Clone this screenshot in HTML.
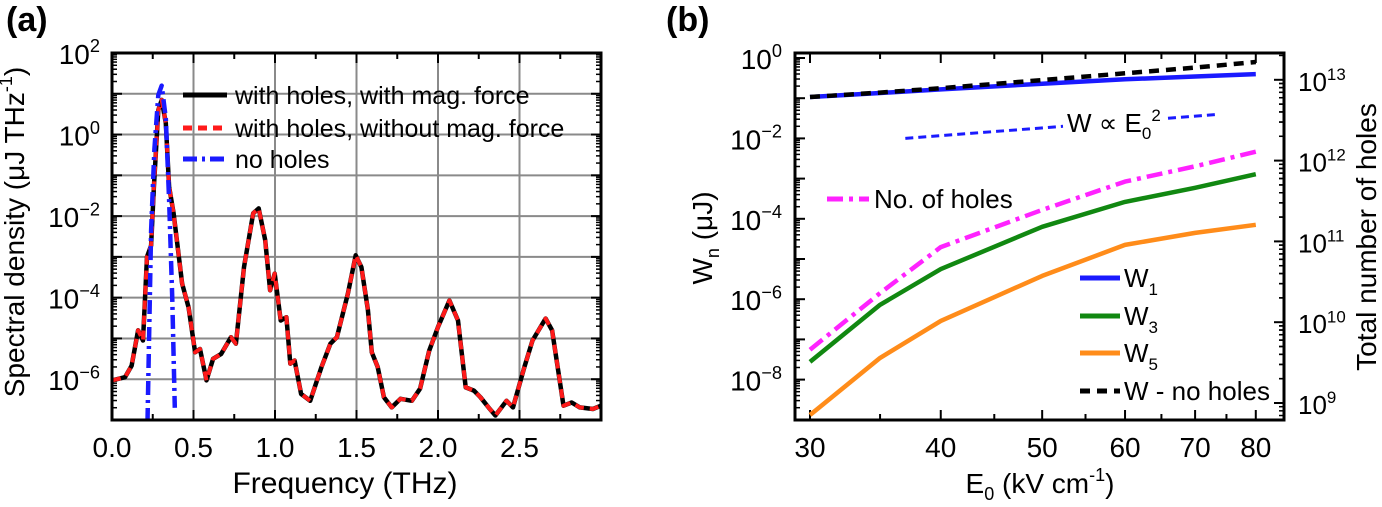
<!DOCTYPE html>
<html><head><meta charset="utf-8"><style>
body{margin:0;background:#fff}
svg{display:block;font-family:"Liberation Sans",sans-serif}
</style></head><body>
<svg id="fig" width="1382" height="507" viewBox="0 0 1382 507" xmlns="http://www.w3.org/2000/svg">
<g id="pa"></g>
<g id="pb"></g>
<text x="6" y="31" font-size="34" font-weight="bold">(a)</text>
<text x="666" y="31" font-size="34" font-weight="bold">(b)</text>
</svg>
<script>
// ---------- Panel (a) data ----------
const freqHoles=[0,0.08,0.12,0.16,0.19,0.215,0.24,0.257,0.284,0.305,0.33,0.35,0.378,0.43,0.47,0.51,0.54,0.58,0.62,0.67,0.73,0.76,0.81,0.866,0.9,0.94,0.97,0.998,1.035,1.07,1.094,1.12,1.16,1.216,1.285,1.34,1.38,1.447,1.495,1.53,1.57,1.594,1.63,1.668,1.716,1.77,1.84,1.89,1.946,2.0,2.07,2.123,2.17,2.22,2.26,2.31,2.352,2.42,2.46,2.53,2.58,2.66,2.7,2.77,2.82,2.87,2.95,3.0];
const logSHoles=[-6.03,-5.95,-5.67,-4.8,-5.05,-3.0,-2.72,-1.28,0.6,0.85,0.28,-1.28,-1.93,-3.65,-4.24,-5.34,-5.26,-6.03,-5.5,-5.38,-4.97,-5.13,-3.25,-1.93,-1.81,-2.59,-3.82,-3.41,-4.56,-4.48,-5.62,-5.54,-6.36,-6.53,-5.7,-5.13,-4.97,-3.9,-2.96,-3.25,-4.3,-5.34,-5.7,-6.44,-6.69,-6.48,-6.53,-6.23,-5.3,-4.72,-4.07,-4.56,-6.2,-6.28,-6.44,-6.69,-6.89,-6.53,-6.69,-5.7,-5.05,-4.51,-4.8,-6.65,-6.57,-6.69,-6.73,-6.65];
const freqNoHoles=[0.218,0.24,0.26,0.284,0.305,0.33,0.35,0.37,0.385];
const logSNoHoles=[-7.05,-2.36,-0.36,0.97,1.2,0.4,-1.6,-4.05,-6.7];
const aXTicks=[0,0.5,1.0,1.5,2.0,2.5];
const aXTickLabels=["0.0","0.5","1.0","1.5","2.0","2.5"];
const aYTicks=[2,0,-2,-4,-6];
const aLegend=["with holes, with mag. force","with holes, without mag. force","no holes"];
// ---------- Panel (b) data ----------
const fieldE=[30,35,40,50,60,70,80];
const logW1=[-0.97,-0.87,-0.78,-0.64,-0.53,-0.46,-0.4];
const logWNoHoles=[-0.97,-0.86,-0.75,-0.55,-0.38,-0.24,-0.1];
const logW3=[-7.56,-6.14,-5.25,-4.2,-3.58,-3.23,-2.89];
const logW5=[-8.88,-7.46,-6.54,-5.42,-4.65,-4.35,-4.15];
const logHoles=[9.66,10.36,10.93,11.39,11.74,11.93,12.11];
const bXTicks=[30,40,50,60,70,80];
const bXMinor=[35,45,55,65,75];
const bYTicks=[0,-2,-4,-6,-8];
const bY2Ticks=[13,12,11,10,9];
const scalingE=[37,73.9];
const scalingLogW0=-2;

const NS="http://www.w3.org/2000/svg";
function mk(parent,tag,attrs,name){const e=document.createElementNS(NS,tag);for(const k in attrs)e.setAttribute(k,attrs[k]);


parent.appendChild(e);return e;}
function supText(parent,x,y,base,sup,size,anchor,name){
  const t=mk(parent,'text',{x:x,y:y,'font-size':size,'text-anchor':anchor||'start'},name);
  const s1=document.createElementNS(NS,'tspan');s1.textContent=base;t.appendChild(s1);
  const s2=document.createElementNS(NS,'tspan');s2.setAttribute('font-size',size*0.65);s2.setAttribute('dy',-size*0.42);s2.textContent=sup;t.appendChild(s2);
  return t;}

// ---------- Panel A ----------
const pa=document.getElementById('pa');
const aL=112,aR=601,aT=53,aB=420;
const ax=f=>aL+(f/3)*(aR-aL);
const ay=l=>aT+(2-l)*(aB-aT)/9;
for(let f=0.5;f<2.9;f+=0.5){mk(pa,'line',{x1:ax(f),x2:ax(f),y1:aT,y2:aB,stroke:'#8a8a8a','stroke-width':2},'grid-x');}
for(let l=1;l>=-6;l--){mk(pa,'line',{x1:aL,x2:aR,y1:ay(l),y2:ay(l),stroke:'#8a8a8a','stroke-width':2},'grid-y');}
for(let d=2;d>-7;d--){for(let m=2;m<10;m++){const l=d-1+Math.log10(m);const y=ay(l);
 mk(pa,'line',{x1:aL,x2:aL+5,y1:y,y2:y,stroke:'#000','stroke-width':1.5},'y-minor-tick');
 mk(pa,'line',{x1:aR-5,x2:aR,y1:y,y2:y,stroke:'#000','stroke-width':1.5},'y-minor-tick');}}
for(let l=2;l>=-7;l--){const y=ay(l);
 mk(pa,'line',{x1:aL,x2:aL+10,y1:y,y2:y,stroke:'#000','stroke-width':2},'y-major-tick');
 mk(pa,'line',{x1:aR-10,x2:aR,y1:y,y2:y,stroke:'#000','stroke-width':2},'y-major-tick');}
for(let f=0.25;f<3;f+=0.25){const x=ax(f);const len=(Math.abs(f*2-Math.round(f*2))<1e-6)?10:6;
 mk(pa,'line',{x1:x,x2:x,y1:aB-len,y2:aB,stroke:'#000','stroke-width':2},'x-tick');
 mk(pa,'line',{x1:x,x2:x,y1:aT,y2:aT+len,stroke:'#000','stroke-width':2},'x-tick');}
const clipA=mk(pa,'clipPath',{id:'clipA'},'clip-a');mk(clipA,'rect',{x:aL,y:aT,width:aR-aL,height:aB-aT},'clip-rect');
const ptsH=freqHoles.map((f,i)=>ax(f).toFixed(1)+','+ay(logSHoles[i]).toFixed(1)).join(' ');
mk(pa,'polyline',{points:ptsH,fill:'none',stroke:'#000','stroke-width':4.5,'stroke-linejoin':'round','clip-path':'url(#clipA)'},'series-with-mag-force');
mk(pa,'polyline',{points:ptsH,fill:'none',stroke:'#ff1a1a','stroke-width':4,'stroke-dasharray':'9 6','stroke-linejoin':'round','clip-path':'url(#clipA)'},'series-without-mag-force');
const ptsN=freqNoHoles.map((f,i)=>ax(f).toFixed(1)+','+ay(logSNoHoles[i]).toFixed(1)).join(' ');
mk(pa,'polyline',{points:ptsN,fill:'none',stroke:'#1a1aff','stroke-width':4.5,'stroke-dasharray':'14 5 3 5','stroke-linejoin':'round','clip-path':'url(#clipA)'},'series-no-holes');
mk(pa,'rect',{x:aL,y:aT,width:aR-aL,height:aB-aT,fill:'none',stroke:'#000','stroke-width':3},'plot-frame-a');
aXTicks.forEach((f,i)=>{const t=mk(pa,'text',{x:ax(f),y:457,'font-size':28,'text-anchor':'middle'},'x-tick-label');t.textContent=aXTickLabels[i];});
aYTicks.forEach(l=>{supText(pa,100,ay(l)+11,'10',(l<0?'\u2212'+(-l):''+l),28,'end','y-tick-label');});
const xl=mk(pa,'text',{x:345,y:493,'font-size':30,'text-anchor':'middle'},'x-axis-title');xl.textContent='Frequency (THz)';
const yl=mk(pa,'text',{x:0,y:0,'font-size':28,'text-anchor':'middle',transform:'translate(24,232) rotate(-90)'},'y-axis-title');
yl.innerHTML='Spectral density (\u03bcJ THz<tspan font-size="18" dy="-12">-1</tspan><tspan dy="12">)</tspan>';
const legY=[95,128,159];
const legStyles=[{stroke:'#000','stroke-width':5},{stroke:'#ff1a1a','stroke-width':5,'stroke-dasharray':'9 6'},{stroke:'#1a1aff','stroke-width':5,'stroke-dasharray':'14 5 3 5'}];
aLegend.forEach((lab,i)=>{const g=mk(pa,'g',{},'legend-entry');
 mk(g,'line',Object.assign({x1:183,x2:227,y1:legY[i],y2:legY[i]},legStyles[i]),'legend-swatch');
 const t=mk(g,'text',{x:235,y:legY[i]+9,'font-size':25},'legend-label');t.textContent=lab;});

// ---------- Panel B ----------
const pb=document.getElementById('pb');
const bL=795,bR=1284,bT=53,bB=420;
const bx=E=>810+454.5*Math.log(E/30);
const by=l=>58-l*40.2;
const by2=n=>403-(n-9)*80.8;
for(let d=0;d>-9;d--){for(let m=2;m<10;m++){const y=by(d-1+Math.log10(m));if(y<bT)continue;
 mk(pb,'line',{x1:bL,x2:bL+5,y1:y,y2:y,stroke:'#000','stroke-width':1.5},'y-minor-tick');}}
for(let l=0;l>=-9;l--){const y=by(l);mk(pb,'line',{x1:bL,x2:bL+10,y1:y,y2:y,stroke:'#000','stroke-width':2},'y-major-tick');}
for(let d=13;d>8;d--){for(let m=2;m<10;m++){const y=by2(d-1+Math.log10(m));if(y>bB||y<bT)continue;
 mk(pb,'line',{x1:bR-5,x2:bR,y1:y,y2:y,stroke:'#000','stroke-width':1.5},'y2-minor-tick');}
 for(let m=2;m<10;m++){const y=by2(d+Math.log10(m));if(y>bT&&y<bB)mk(pb,'line',{x1:bR-5,x2:bR,y1:y,y2:y,stroke:'#000','stroke-width':1.5},'y2-minor-tick');}}
bY2Ticks.forEach(n=>{const y=by2(n);mk(pb,'line',{x1:bR-10,x2:bR,y1:y,y2:y,stroke:'#000','stroke-width':2},'y2-major-tick');});
bXTicks.forEach(E=>{const x=bx(E);mk(pb,'line',{x1:x,x2:x,y1:bB-10,y2:bB,stroke:'#000','stroke-width':2},'x-tick');mk(pb,'line',{x1:x,x2:x,y1:bT,y2:bT+10,stroke:'#000','stroke-width':2},'x-tick');});
bXMinor.forEach(E=>{const x=bx(E);mk(pb,'line',{x1:x,x2:x,y1:bB-6,y2:bB,stroke:'#000','stroke-width':2},'x-minor-tick');mk(pb,'line',{x1:x,x2:x,y1:bT,y2:bT+6,stroke:'#000','stroke-width':2},'x-minor-tick');});
function line(vals,mapY,style,name){const pts=fieldE.map((E,i)=>bx(E).toFixed(1)+','+mapY(vals[i]).toFixed(1)).join(' ');
 return mk(pb,'polyline',Object.assign({points:pts,fill:'none','stroke-linejoin':'round'},style),name);}
line(logW1,by,{stroke:'#1a1aff','stroke-width':4.5},'series-w1');
line(logWNoHoles,by,{stroke:'#000','stroke-width':4.5,'stroke-dasharray':'10 7'},'series-w-no-holes');
line(logW3,by,{stroke:'#118811','stroke-width':4.5},'series-w3');
line(logW5,by,{stroke:'#ff8c1a','stroke-width':4.5},'series-w5');
line(logHoles,by2,{stroke:'#ff22ff','stroke-width':4.5,'stroke-dasharray':'16 6 4 6'},'series-no-of-holes');
const sl=E=>scalingLogW0+2*Math.log10(E/scalingE[0]);
mk(pb,'line',{x1:bx(scalingE[0]),y1:by(sl(scalingE[0])),x2:1063,y2:by(sl(30*Math.exp((1063-810)/454.5))),stroke:'#1a1aff','stroke-width':3,'stroke-dasharray':'8 5'},'scaling-line-left');
mk(pb,'line',{x1:1168,y1:by(sl(30*Math.exp((1168-810)/454.5))),x2:bx(scalingE[1]),y2:by(sl(scalingE[1])),stroke:'#1a1aff','stroke-width':3,'stroke-dasharray':'8 5'},'scaling-line-right');
const st=mk(pb,'text',{x:1067,y:132,'font-size':26},'scaling-label');
st.innerHTML='W \u221d E<tspan font-size="17" dy="7">0</tspan><tspan font-size="17" dy="-18">2</tspan>';
mk(pb,'rect',{x:bL,y:bT,width:bR-bL,height:bB-bT,fill:'none',stroke:'#000','stroke-width':3},'plot-frame-b');
bXTicks.forEach(E=>{const t=mk(pb,'text',{x:bx(E),y:457,'font-size':28,'text-anchor':'middle'},'x-tick-label');t.textContent=''+E;});
bYTicks.forEach(l=>{supText(pb,782,by(l)+11,'10',(l<0?'\u2212'+(-l):''+l),28,'end','y-tick-label');});
bY2Ticks.forEach(n=>{supText(pb,1298,by2(n)+11,'10',''+n,26,'start','y2-tick-label');});
const bxl=mk(pb,'text',{x:1040,y:493,'font-size':28,'text-anchor':'middle'},'x-axis-title');
bxl.innerHTML='E<tspan font-size="18" dy="7">0</tspan><tspan dy="-7"> (kV cm</tspan><tspan font-size="18" dy="-12">-1</tspan><tspan dy="12">)</tspan>';
const byl=mk(pb,'text',{x:0,y:0,'font-size':28,'text-anchor':'middle',transform:'translate(712,238) rotate(-90)'},'y-axis-title');
byl.innerHTML='W<tspan font-size="18" dy="7">n</tspan><tspan dy="-7"> (\u03bcJ)</tspan>';
const by2l=mk(pb,'text',{x:0,y:0,'font-size':28,'text-anchor':'middle',transform:'translate(1376,237) rotate(-90)'},'y2-axis-title');
by2l.textContent='Total number of holes';
const lb=[{y:278,lab:'W',sub:'1',st:{stroke:'#1a1aff','stroke-width':5}},{y:316,lab:'W',sub:'3',st:{stroke:'#118811','stroke-width':5}},{y:353,lab:'W',sub:'5',st:{stroke:'#ff8c1a','stroke-width':5}},{y:391,lab:'W - no holes',sub:'',st:{stroke:'#000','stroke-width':5,'stroke-dasharray':'10 7'}}];
lb.forEach(e=>{const g=mk(pb,'g',{},'legend-entry');
 mk(g,'line',Object.assign({x1:1080,x2:1120,y1:e.y,y2:e.y},e.st),'legend-swatch');
 const t=mk(g,'text',{x:1124,y:e.y+9,'font-size':26},'legend-label');
 t.innerHTML=e.lab+(e.sub?'<tspan font-size="17" dy="8">'+e.sub+'</tspan>':'');});
const gh=mk(pb,'g',{},'legend-entry-holes');
mk(gh,'line',{x1:827,x2:869,y1:199,y2:199,stroke:'#ff22ff','stroke-width':5,'stroke-dasharray':'16 6 4 6'},'legend-swatch');
const th=mk(gh,'text',{x:874,y:208,'font-size':26},'legend-label');th.textContent='No. of holes';
</script>
</body></html>
